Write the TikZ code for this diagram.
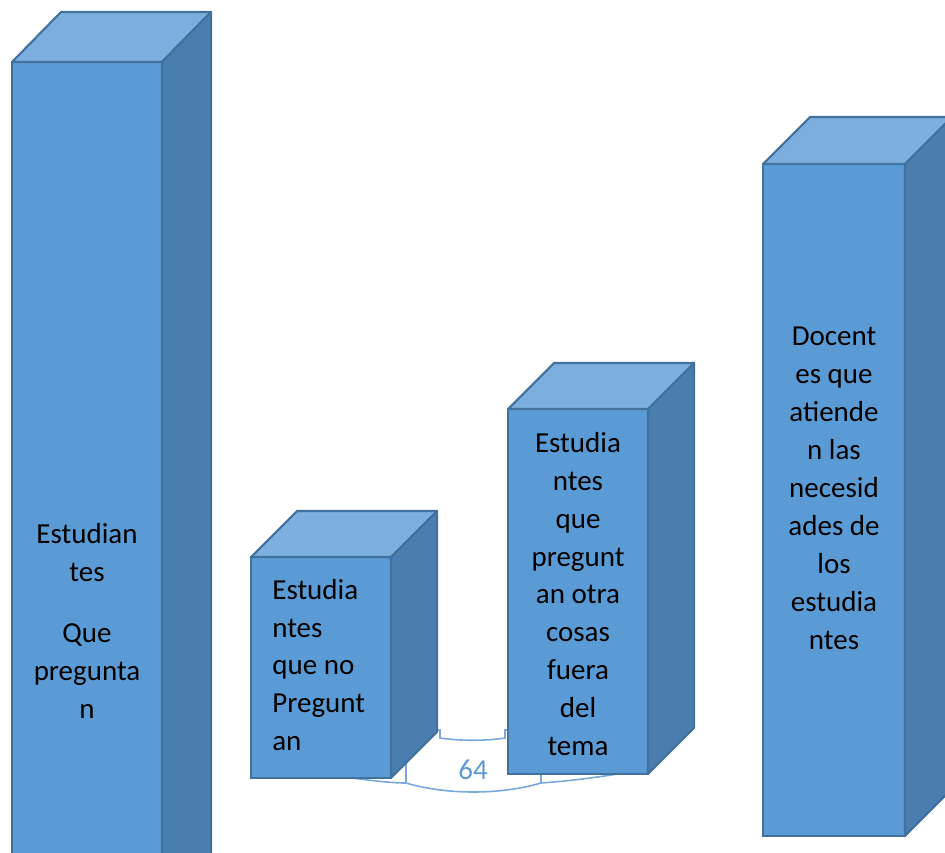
\documentclass[tikz,border=0pt]{standalone}
\usepackage{fontspec}
\setmainfont{Carlito}
\usepackage{tikz}
\usetikzlibrary{positioning, calc}
\definecolor{barfront}{HTML}{5B9BD5}
\definecolor{bartop}{HTML}{7CAFDD}
\definecolor{barside}{HTML}{4A7EAE}
\definecolor{baredge}{HTML}{41719C}
\definecolor{labelblue}{HTML}{7AA8DC}
\definecolor{labeltext}{HTML}{5E9BD6}

\begin{document}
\begin{tikzpicture}[
    x=0.02cm, y=-0.02cm,
    every node/.style={font=\fontsize{16.5}{21.6}\selectfont},
    front/.style={
        rectangle,
        draw=baredge,
        fill=barfront,
        line width=1.2pt,
        inner sep=0pt,
        outer sep=0pt,
        anchor=north west
    },
    topface/.style={
        draw=baredge,
        fill=bartop,
        line width=1.2pt,
        line join=round
    },
    sideface/.style={
        draw=baredge,
        fill=barside,
        line width=1.2pt,
        line join=round
    },
    bartext/.style={
        align=center,
        text=black,
        inner sep=0pt
    },
    labelline/.style={
        draw=labelblue,
        line width=0.9pt
    }
]
\clip (0,0) rectangle (945,852);

% Data label behind the middle bars
\draw[labelline] (330,775) .. controls (380,782) and (395,783) .. (406,783);
\draw[labelline] (541,783) .. controls (570,781) and (600,777) .. (630,772);
\filldraw[labelline, fill=white] (406,730) -- (440,730) -- (440,738)
    .. controls (460,741) and (485,741) .. (505,738) -- (505,730) -- (541,730)
    -- (541,783) .. controls (500,795) and (447,795) .. (406,783) -- cycle;
\node[text=labeltext, inner sep=0pt] (val) at (473,770) {64};

% Bar 1 - students who ask
\node[front, minimum width=3cm, minimum height=16.4cm] (estq) at (12,62) {};
\filldraw[topface] (estq.north west) -- ++(49,-50) -- ++(150,0) -- (estq.north east) -- cycle;
\filldraw[sideface] (estq.north east) -- ++(49,-50) -- ++(0,900) -- (estq.south east) -- cycle;
\node[bartext] (estqtxt) at (87,621) {Estudian\\tes\\[0.46cm]Que\\pregunta\\n};

% Bar 2 - students who do not ask
\node[front, minimum width=2.8cm, minimum height=4.42cm] (noq) at (251,557) {};
\filldraw[topface] (noq.north west) -- ++(46,-46) -- ++(140,0) -- (noq.north east) -- cycle;
\filldraw[sideface] (noq.north east) -- ++(46,-46) -- ++(0,221) -- (noq.south east) -- cycle;
\node[bartext, align=left, anchor=west] (noqtxt) at (272,665) {Estudia\\ntes\\que no\\Pregunt\\an};

% Bar 3 - students who ask off topic
\node[front, minimum width=2.8cm, minimum height=7.3cm] (otra) at (508,409) {};
\filldraw[topface] (otra.north west) -- ++(46,-46) -- ++(140,0) -- (otra.north east) -- cycle;
\filldraw[sideface] (otra.north east) -- ++(46,-46) -- ++(0,365) -- (otra.south east) -- cycle;
\node[bartext] (otratxt) at (578,594) {Estudia\\ntes\\que\\pregunt\\an otra\\cosas\\fuera\\del\\tema};

% Bar 4 - teachers
\node[front, minimum width=2.84cm, minimum height=13.44cm] (doc) at (763,164) {};
\filldraw[topface] (doc.north west) -- ++(47,-47) -- ++(142,0) -- (doc.north east) -- cycle;
\filldraw[sideface] (doc.north east) -- ++(47,-47) -- ++(0,672) -- (doc.south east) -- cycle;
\node[bartext] (doctxt) at (834,488) {Docent\\es que\\atiende\\n las\\necesid\\ades de\\los\\estudia\\ntes};

\end{tikzpicture}
\end{document}
